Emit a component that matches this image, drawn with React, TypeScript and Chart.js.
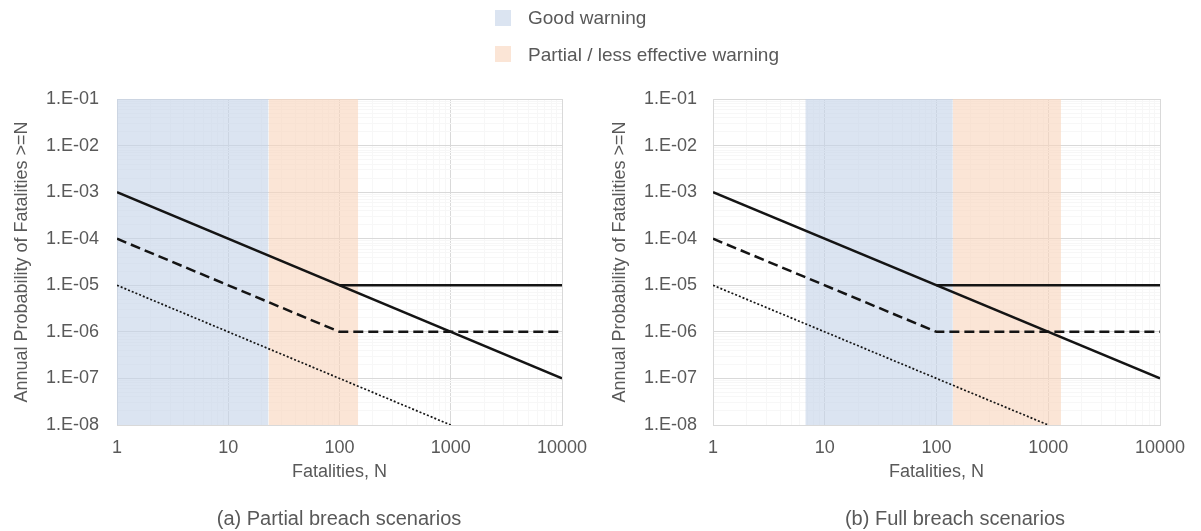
import React, { useEffect, useRef } from 'react';
import { Chart, registerables } from 'chart.js';
Chart.register(...registerables);

// ---- data ----
const xMajorTicks = [1, 10, 100, 1000, 10000];
const yMajorTicks = [1e-1, 1e-2, 1e-3, 1e-4, 1e-5, 1e-6, 1e-7, 1e-8];

const solidDiagonal = [{ x: 1, y: 1e-3 }, { x: 10000, y: 1e-7 }];
const solidFlat = [{ x: 100, y: 1e-5 }, { x: 10000, y: 1e-5 }];
const dashedLine = [{ x: 1, y: 1e-4 }, { x: 100, y: 1e-6 }, { x: 10000, y: 1e-6 }];
const dottedLine = [{ x: 1, y: 1e-5 }, { x: 1000, y: 1e-8 }];

const goodWarningA = [1, 23];
const partialWarningA = [23, 147];
const goodWarningB = [6.7, 140];
const partialWarningB = [140, 1300];

const legendLabels = ['Good warning', 'Partial / less effective warning'];
const captions = ['(a) Partial breach scenarios', '(b) Full breach scenarios'];
const xTitle = 'Fatalities, N';
const yTitle = 'Annual Probability of Fatalities >=N';

// ---- styles ----
const FONT = "'Liberation Sans', Arial, sans-serif";
const TEXT = '#595959';
const GRID_MAJOR = '#d9d9d9';
const GRID_MINOR = '#f7f7f7';
const BLUE_FILL = 'rgba(195,210,232,0.6)';
const ORANGE_FILL = 'rgba(248,212,187,0.6)';
const BLUE_SOLID = '#dbe4f1';
const ORANGE_SOLID = '#fbe5d6';
const LINE = '#141414';

const isMajor = (v: number) => {
  const l = Math.log10(v);
  return Math.abs(l - Math.round(l)) < 1e-9;
};
const withMinor = (majors: number[]) => {
  const sorted = [...majors].sort((a, b) => a - b);
  const out: number[] = [];
  sorted.forEach((m, i) => {
    out.push(m);
    if (i < sorted.length - 1) for (let d = 2; d <= 9; d++) out.push(d * m);
  });
  return out;
};
const yLabel = (v: number) => {
  const e = Math.round(Math.log10(v));
  return '1.E' + (e < 0 ? '-' : '+') + String(Math.abs(e)).padStart(2, '0');
};

type PanelProps = {
  left: number;
  width: number;
  padRight: number;
  yAxisWidth: number;
  yTickPad: number;
  yTitlePad: number;
  good: number[];
  partial: number[];
};

function Panel(p: PanelProps) {
  const ref = useRef<HTMLCanvasElement>(null);
  useEffect(() => {
    if (!ref.current) return;
    const yTop = Math.max(...yMajorTicks);
    const band = (r: number[], color: string) => ({
      data: [{ x: r[0], y: yTop }, { x: r[1], y: yTop }],
      backgroundColor: color,
      borderWidth: 0,
      pointRadius: 0,
      fill: 'start',
      tension: 0,
    });
    const line = (data: any[], dash: number[], w: number) => ({
      data,
      borderColor: LINE,
      borderWidth: w,
      borderDash: dash,
      pointRadius: 0,
      fill: false,
      tension: 0,
    });
    const chart = new Chart(ref.current, {
      type: 'line',
      data: {
        datasets: [
          band(p.good, BLUE_FILL),
          band(p.partial, ORANGE_FILL),
          line(solidDiagonal, [], 2.5),
          line(solidFlat, [], 2.5),
          line(dashedLine, [10, 5], 2.5),
          line(dottedLine, [2, 2], 1.7),
        ] as any,
      },
      options: {
        animation: false,
        responsive: false,
        events: [],
        layout: { padding: { top: 99, right: p.padRight, bottom: 48, left: 0 } },
        plugins: {
          legend: { display: false },
          tooltip: { enabled: false },
          filler: { drawTime: 'beforeDatasetsDraw' } as any,
        },
        scales: {
          x: {
            type: 'logarithmic',
            min: 1,
            max: 10000,
            afterBuildTicks: (s: any) => {
              s.ticks = withMinor(xMajorTicks).map((v) => ({ value: v }));
            },
            afterFit: (s: any) => {
              s.height = 58;
            },
            ticks: {
              autoSkip: false,
              maxRotation: 0,
              minRotation: 0,
              padding: 12,
              color: TEXT,
              font: { family: FONT, size: 18 },
              callback: (v: any) => (isMajor(Number(v)) ? String(v) : ''),
            },
            grid: {
              drawTicks: false,
              color: (c: any) => (c.tick && isMajor(c.tick.value) ? GRID_MAJOR : GRID_MINOR),
            },
            border: { color: GRID_MAJOR },
            title: {
              display: true,
              text: xTitle,
              color: TEXT,
              font: { family: FONT, size: 18 },
              padding: { top: 0, bottom: 0 },
            },
          },
          y: {
            type: 'logarithmic',
            min: Math.min(...yMajorTicks),
            max: yTop,
            afterBuildTicks: (s: any) => {
              s.ticks = withMinor(yMajorTicks).map((v) => ({ value: v }));
            },
            afterFit: (s: any) => {
              s.width = p.yAxisWidth;
            },
            ticks: {
              autoSkip: false,
              padding: p.yTickPad,
              color: TEXT,
              font: { family: FONT, size: 18 },
              callback: (v: any) => (isMajor(Number(v)) ? yLabel(Number(v)) : ''),
            },
            grid: {
              drawTicks: false,
              color: (c: any) => (c.tick && isMajor(c.tick.value) ? GRID_MAJOR : GRID_MINOR),
            },
            border: { color: GRID_MAJOR },
            title: {
              display: true,
              text: yTitle,
              color: TEXT,
              font: { family: FONT, size: 18 },
              padding: { top: p.yTitlePad, bottom: 0 },
            },
          },
        },
      } as any,
    });
    return () => chart.destroy();
  }, []);
  return (
    <canvas
      ref={ref}
      width={p.width}
      height={531}
      style={{ position: 'absolute', left: p.left, top: 0, width: p.width, height: 531 }}
    />
  );
}

const textStyle: React.CSSProperties = {
  position: 'absolute',
  fontFamily: FONT,
  color: TEXT,
  whiteSpace: 'nowrap',
};

export default function App() {
  return (
    <div style={{ position: 'absolute', left: 0, top: 0, width: 1201, height: 531, background: '#fff', overflow: 'hidden' }}>
      <Panel left={0} width={600} padRight={38} yAxisWidth={117} yTickPad={18} yTitlePad={11} good={goodWarningA} partial={partialWarningA} />
      <Panel left={600} width={601} padRight={41} yAxisWidth={113} yTickPad={16} yTitlePad={9} good={goodWarningB} partial={partialWarningB} />
      {/* legend */}
      <div style={{ position: 'absolute', left: 495, top: 10, width: 16, height: 16, background: BLUE_SOLID }} />
      <div style={{ position: 'absolute', left: 495, top: 46, width: 16, height: 16, background: ORANGE_SOLID }} />
      <div style={{ ...textStyle, left: 528, top: 7, fontSize: 19, lineHeight: '22px' }}>{legendLabels[0]}</div>
      <div style={{ ...textStyle, left: 528, top: 44, fontSize: 19, lineHeight: '22px' }}>{legendLabels[1]}</div>
      {/* captions */}
      <div style={{ ...textStyle, left: 139, width: 400, textAlign: 'center', top: 506, fontSize: 20, lineHeight: '24px' }}>{captions[0]}</div>
      <div style={{ ...textStyle, left: 755, width: 400, textAlign: 'center', top: 506, fontSize: 20, lineHeight: '24px' }}>{captions[1]}</div>
    </div>
  );
}
